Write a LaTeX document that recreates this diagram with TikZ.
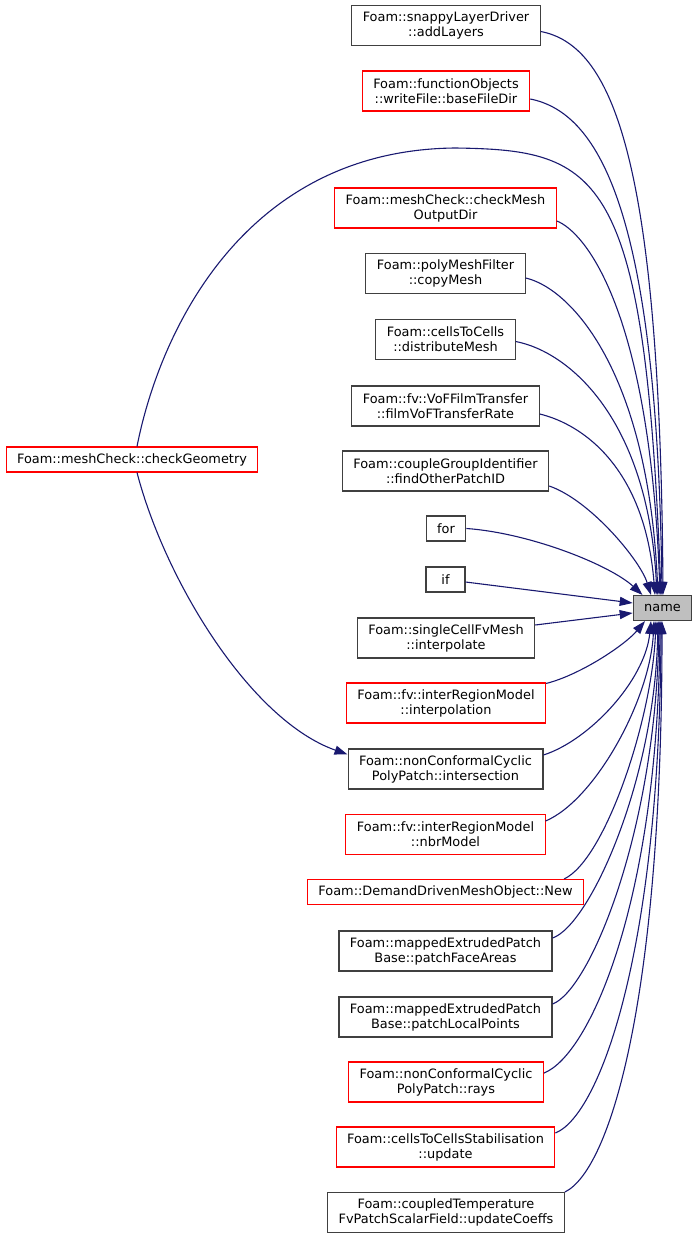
\documentclass[tikz,border=0pt]{standalone}
\usepackage{fontspec}
\setmainfont{DejaVu Sans}
\usetikzlibrary{arrows.meta}
\definecolor{edgeblue}{HTML}{191970}
\definecolor{boxgrey}{HTML}{404040}
\definecolor{namefill}{HTML}{BFBFBF}
\tikzset{fnbox/.style={draw=boxgrey, line width=1.1pt, fill=white, inner xsep=11pt, inner ysep=2pt,
                       minimum height=25pt, minimum width=39pt, align=center, font=\fontsize{12.9}{15}\selectfont},
        fnred/.style={fnbox, draw=red},
        twoline/.style={minimum height=40pt},
        current/.style={fnbox, fill=namefill},
        call/.style={draw=edgeblue, line width=1.1pt, -{Triangle[length=13pt,width=9pt]}},
        }
\begin{document}
\begin{tikzpicture}[x=1pt, y=-1pt]
    \useasboundingbox (0,0) rectangle (697,1239);

    \node[current] (name) at (662.5,608) {name};
    \node[fnred] (checkGeometry) at (132,459.5) {Foam::meshCheck::checkGeometry};

    \node[fnbox, twoline] (addLayers) at (446,25.5) {Foam::snappyLayerDriver\\::addLayers};
    \node[fnred, twoline] (baseFileDir) at (446,91) {Foam::functionObjects\\::writeFile::baseFileDir};
    \node[fnred, twoline] (checkMeshOutputDir) at (445.5,208) {Foam::meshCheck::checkMesh\\OutputDir};
    \node[fnbox, twoline] (copyMesh) at (445.5,273.5) {Foam::polyMeshFilter\\::copyMesh};
    \node[fnbox, twoline] (distributeMesh) at (445.5,339.5) {Foam::cellsToCells\\::distributeMesh};
    \node[fnbox, twoline] (filmVoF) at (445.5,406) {Foam::fv::VoFFilmTransfer\\::filmVoFTransferRate};
    \node[fnbox, twoline] (findOther) at (445.5,471) {Foam::coupleGroupIdentifier\\::findOtherPatchID};
    \node[fnbox] (for) at (446,528.5) {for};
    \node[fnbox] (if) at (445.5,579.5) {if};
    \node[fnbox, twoline] (singleCell) at (446,638) {Foam::singleCellFvMesh\\::interpolate};
    \node[fnred, twoline] (interpolation) at (446,703) {Foam::fv::interRegionModel\\::interpolation};
    \node[fnbox, twoline] (intersection) at (445.5,769) {Foam::nonConformalCyclic\\PolyPatch::intersection};
    \node[fnred, twoline] (nbrModel) at (445.5,834.5) {Foam::fv::interRegionModel\\::nbrModel};
    \node[fnred] (New) at (445.5,892) {Foam::DemandDrivenMeshObject::New};
    \node[fnbox, twoline] (patchFaceAreas) at (445.5,951) {Foam::mappedExtrudedPatch\\Base::patchFaceAreas};
    \node[fnbox, twoline] (patchLocalPoints) at (445.5,1017) {Foam::mappedExtrudedPatch\\Base::patchLocalPoints};
    \node[fnred, twoline] (rays) at (446,1082) {Foam::nonConformalCyclic\\PolyPatch::rays};
    \node[fnred, twoline] (update) at (445.5,1147) {Foam::cellsToCellsStabilisation\\::update};
    \node[fnbox, twoline] (updateCoeffs) at (446,1212.5) {Foam::coupledTemperature\\FvPatchScalarField::updateCoeffs};

    % callers above name
    \draw[call] ([yshift=-6pt]addLayers.east) .. controls (610,45) and (660,150) .. ([xshift=0.5pt]name.north);
    \draw[call] ([yshift=-8pt]baseFileDir.east) .. controls (595,112) and (657,200) .. ([xshift=-0.5pt]name.north);
    \draw[call] ([xshift=5pt]checkGeometry.north) .. controls (160,330) and (245,150) .. (455,148)
                .. controls (600,150) and (645,170) .. ([xshift=-1.5pt]name.north);
    \draw[call] ([yshift=-13pt]checkMeshOutputDir.east) .. controls (585,232) and (650,310) .. ([xshift=-2.5pt]name.north);
    \draw[call] ([yshift=-4.5pt]copyMesh.east) .. controls (570,288) and (648,370) .. ([xshift=-4.5pt]name.north);
    \draw[call] ([yshift=-2pt]distributeMesh.east) .. controls (570,352) and (648,420) .. ([xshift=-5.5pt]name.north);
    \draw[call] ([yshift=-8pt]filmVoF.east) .. controls (585,425) and (645,470) .. ([xshift=-7.5pt]name.north);
    \draw[call] ([yshift=-15pt]findOther.east) .. controls (590,500) and (640,560) .. ([xshift=-11.5pt]name.north);
    \draw[call] (for.east) .. controls (530,533) and (610,565) .. ([xshift=-20pt]name.north);
    \draw[call] ([yshift=-2.5pt]if.east) -- ([yshift=5pt]name.west);
    \draw[call] ([yshift=13pt]singleCell.east) -- ([yshift=-5pt]name.west);

    % callers below name
    \draw[call] ([yshift=-1pt]interpolation.north east) .. controls (580,675) and (625,645) .. ([xshift=-17.5pt]name.south);
    \draw[call] ([yshift=14pt]intersection.east) .. controls (590,740) and (645,680) .. ([xshift=-11.5pt]name.south);
    \draw[call] ([yshift=13.5pt]nbrModel.east) .. controls (595,800) and (650,700) .. ([xshift=-8.5pt]name.south);
    \draw[call] ([xshift=-20pt]New.north east) .. controls (605,860) and (652,720) .. ([xshift=-6.5pt]name.south);
    \draw[call] ([yshift=13pt]patchFaceAreas.east) .. controls (590,925) and (655,780) .. ([xshift=-4.5pt]name.south);
    \draw[call] ([yshift=13pt]patchLocalPoints.east) .. controls (590,990) and (656,830) .. ([xshift=-3.5pt]name.south);
    \draw[call] ([yshift=9pt]rays.east) .. controls (590,1055) and (658,900) .. ([xshift=-2.5pt]name.south);
    \draw[call] ([yshift=14pt]update.east) .. controls (600,1115) and (660,950) .. ([xshift=-1.5pt]name.south);
    \draw[call] (updateCoeffs.north east) .. controls (610,1170) and (662,1000) .. ([xshift=-0.5pt]name.south);

    \draw[call] ([xshift=5pt]checkGeometry.south) .. controls (165,580) and (250,720) .. ([yshift=-6pt]intersection.north west);
\end{tikzpicture}
\end{document}
